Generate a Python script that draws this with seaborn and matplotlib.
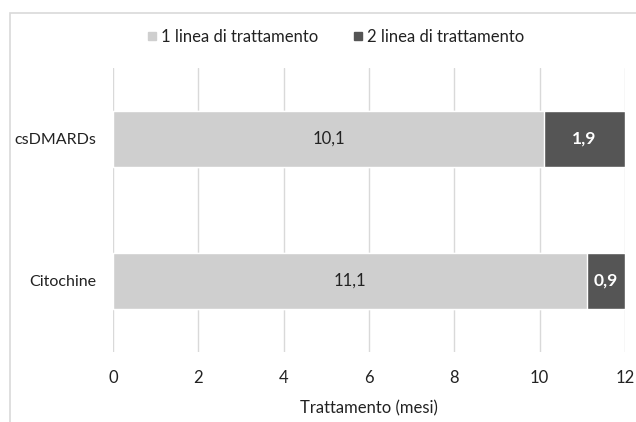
import matplotlib
matplotlib.use("Agg")
import matplotlib.pyplot as plt
import seaborn as sns
from matplotlib.patches import Rectangle
from matplotlib.lines import Line2D

categories = ["csDMARDs", "Citochine"]
prima_linea = [10.1, 11.1]
seconda_linea = [1.9, 0.9]
series_names = ["1 linea di trattamento", "2 linea di trattamento"]
x_ticks = [0, 2, 4, 6, 8, 10, 12]

light = "#cfcfcf"
dark = "#555555"
grid_col = "#d9d9d9"
text_col = "#222222"

sns.set_theme(style="white")
plt.rcParams["font.family"] = ["Lato", "DejaVu Sans"]

fig = plt.figure(figsize=(6.36, 4.22), dpi=100)
ax = fig.add_axes([113 / 636, 1 - 352 / 422, 512 / 636, 284 / 422])

totals = [a + b for a, b in zip(prima_linea, seconda_linea)]
sns.barplot(x=totals, y=categories, color=dark, width=0.4, orient="h",
            saturation=1, ax=ax, zorder=2)
sns.barplot(x=prima_linea, y=categories, color=light, width=0.4, orient="h",
            saturation=1, ax=ax, zorder=3)

for i, (a, b) in enumerate(zip(prima_linea, seconda_linea)):
    ax.text(a / 2, i, f"{a:.1f}".replace(".", ","), ha="center", va="center",
            fontsize=12, color=text_col, zorder=4)
    ax.text(a + b / 2, i, f"{b:.1f}".replace(".", ","), ha="center", va="center",
            fontsize=12.5, color="white", fontweight="bold", zorder=4)

ax.set_xlim(0, 12)
ax.set_ylim(1.5, -0.5)
ax.set_xticks(x_ticks)
ax.set_xticklabels([str(t) for t in x_ticks])
ax.grid(axis="x", color=grid_col, linewidth=1, zorder=0)
ax.set_axisbelow(True)
for s in ax.spines.values():
    s.set_visible(False)
ax.tick_params(axis="x", length=0, pad=13, labelsize=12, labelcolor=text_col)
ax.tick_params(axis="y", length=0, pad=12, labelsize=11.5, labelcolor=text_col)
ax.set_xlabel("Trattamento (mesi)", fontsize=12, color=text_col, labelpad=10)
ax.set_ylabel("")

# outer chart frame
fig.patches.append(Rectangle((10 / 636, -0.1), 1.2, 1 - 13 / 422 + 0.1,
                             transform=fig.transFigure, fill=False,
                             edgecolor=grid_col, linewidth=1.2))

handles = [Line2D([], [], marker="s", linestyle="", markersize=6,
                  markerfacecolor=c, markeredgecolor=c) for c in (light, dark)]
fig.legend(handles, series_names, loc="center", bbox_to_anchor=(334 / 636, 1 - 37 / 422),
           ncol=2, frameon=False, fontsize=12, handletextpad=0.05,
           handlelength=1.0, columnspacing=1.9, labelcolor=text_col)

fig.savefig("out.png", dpi=100)
